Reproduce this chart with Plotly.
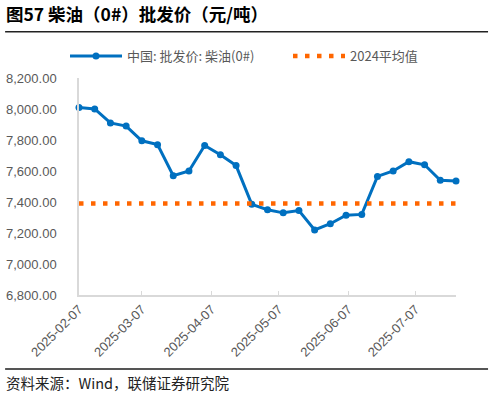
import plotly.graph_objects as go

dates = ["2025-02-07", "2025-02-14", "2025-02-21", "2025-02-28", "2025-03-07", "2025-03-14",
         "2025-03-21", "2025-03-28", "2025-04-04", "2025-04-11", "2025-04-18", "2025-04-25",
         "2025-05-02", "2025-05-09", "2025-05-16", "2025-05-23", "2025-05-30", "2025-06-06",
         "2025-06-13", "2025-06-20", "2025-06-27", "2025-07-04", "2025-07-11", "2025-07-18",
         "2025-07-25"]
diesel = [8010, 8000, 7910, 7890, 7795, 7770, 7570, 7600, 7765, 7705, 7635, 7385,
          7350, 7330, 7345, 7220, 7260, 7315, 7320, 7565, 7600, 7660, 7640, 7540, 7535]
avg_2024 = 7390
tick_dates = ["2025-02-07", "2025-03-07", "2025-04-07", "2025-05-07", "2025-06-07", "2025-07-07"]
series_names = ["中国: 批发价: 柴油(0#)", "2024平均值"]

FONT = "Liberation Sans, Arial, Noto Sans CJK SC, sans-serif"
CJK = "Noto Sans CJK SC, sans-serif"
GRAY = "#595959"

fig = go.Figure()
fig.add_trace(go.Scatter(
    x=dates, y=diesel, name=series_names[0], mode="lines+markers",
    line=dict(color="#0070C0", width=3),
    marker=dict(color="#0070C0", size=7),
    cliponaxis=False, legend="legend",
))
fig.add_trace(go.Scatter(
    x=[dates[0], dates[-1]], y=[avg_2024, avg_2024], name=series_names[1], mode="lines",
    line=dict(color="#FF6600", width=4.5, dash="4.5px,7.5px"),
    cliponaxis=False, legend="legend2",
))

leg_common = dict(
    orientation="h", xanchor="left", yanchor="middle",
    xref="container", yref="container",
    font=dict(family=CJK, size=13, color=GRAY),
    itemwidth=52, bgcolor="rgba(0,0,0,0)",
)

fig.update_layout(
    width=494, height=393,
    margin=dict(l=79, r=38, t=78, b=98, autoexpand=False),
    paper_bgcolor="white", plot_bgcolor="white",
    font=dict(family=FONT, color=GRAY, size=13),
    showlegend=True,
    legend=dict(x=65 / 494, y=1 - 56 / 393, **leg_common),
    legend2=dict(x=288 / 494, y=1 - 56 / 393, **leg_common),
    xaxis=dict(
        type="date", range=[dates[0], dates[-1]],
        tickvals=tick_dates, ticktext=tick_dates,
        tickangle=-45, tickfont=dict(size=13, color=GRAY),
        showgrid=False, zeroline=False, automargin=False,
        showline=True, linecolor="#D9D9D9", linewidth=1.5,
        ticks="inside", ticklen=4, tickcolor="#D9D9D9",
    ),
    yaxis=dict(
        range=[6800, 8200], dtick=200, tickformat=",.2f",
        tickfont=dict(size=13, color=GRAY),
        showgrid=False, zeroline=False, automargin=False,
        showline=True, linecolor="#D9D9D9", linewidth=1.5,
        ticks="", ticklabelstandoff=18,
    ),
    annotations=[
        dict(text="<b>图57 柴油（0#）批发价（元/吨）</b>", xref="paper", yref="paper",
             x=-0.198, y=1.297, xanchor="left", yanchor="middle", showarrow=False,
             font=dict(family=CJK, size=17.5, color="black")),
        dict(text="资料来源：Wind，联储证券研究院", xref="paper", yref="paper",
             x=-0.199, y=-0.401, xanchor="left", yanchor="middle", showarrow=False,
             font=dict(family=CJK, size=14.5, color="#222222")),
    ],
    shapes=[
        dict(type="line", xref="paper", yref="paper", x0=-0.196, x1=1.085,
             y0=1.213, y1=1.213, line=dict(color="#222222", width=1.5)),
        dict(type="line", xref="paper", yref="paper", x0=-0.196, x1=1.085,
             y0=-0.341, y1=-0.341, line=dict(color="#555555", width=2)),
    ],
)

fig.write_html(
    "out.html",
    config={"displayModeBar": False},
    post_script="document.body.style.margin='0';document.body.style.padding='0';",
)
